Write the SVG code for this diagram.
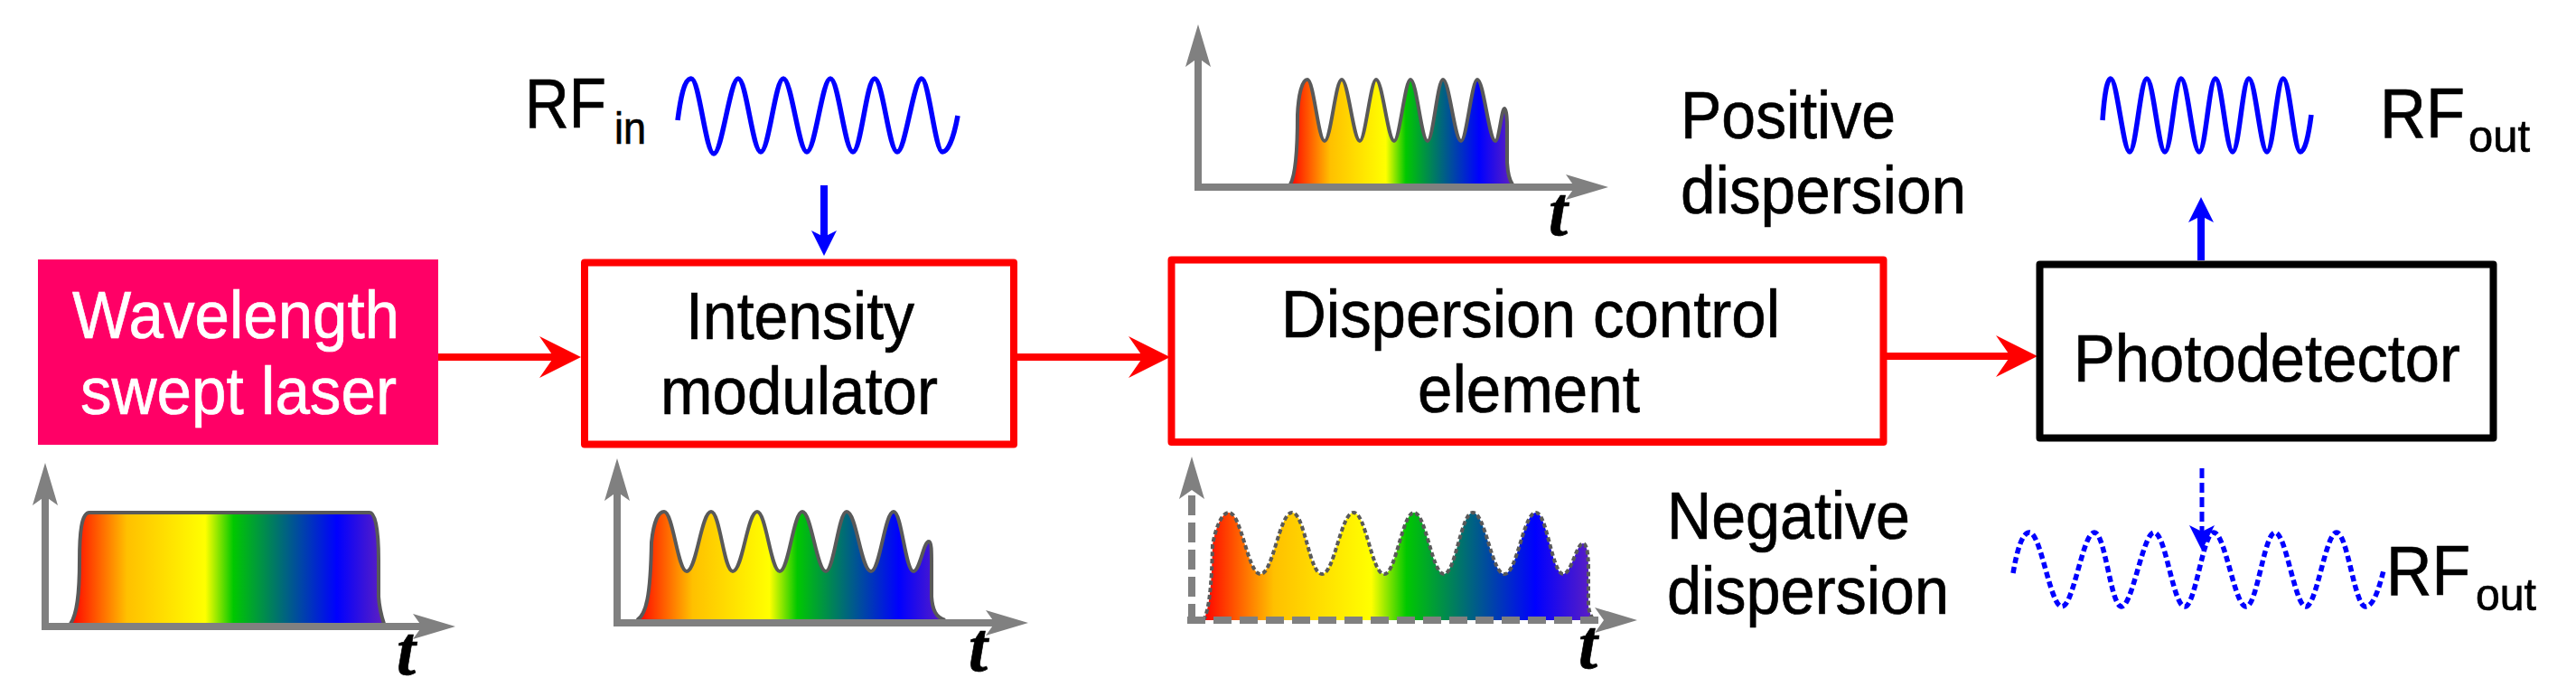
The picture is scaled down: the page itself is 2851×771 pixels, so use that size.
<svg xmlns="http://www.w3.org/2000/svg" width="2851" height="771" viewBox="0 0 2851 771">
<style>
text{font-family:"Liberation Sans",Arial,sans-serif;font-size:75px;fill:#000;stroke:#000;stroke-width:.7}
.w{fill:#fff;stroke:#fff}
.rf{font-size:78px}
.sub{font-size:50px}
.t{font-family:"Liberation Serif","Times New Roman",serif;font-weight:bold;font-style:italic;font-size:78px}
.box{fill:#fff;stroke-width:8;stroke-linejoin:round}
.axis{fill:none;stroke:#808080;stroke-width:8;marker-end:url(#ga)}
.pulse{fill:url(#rainbow);stroke:#595959;stroke-width:4}
.wave{fill:none;stroke:#0000ff;stroke-width:5.500}
.red{stroke:#ff0000;stroke-width:8;fill:none;marker-end:url(#ra)}
.blue{stroke:#0000ff;stroke-width:8;fill:none;marker-end:url(#ba)}
</style>
<defs>
<linearGradient id="rainbow" x1="0" y1="0" x2="1" y2="0">
<stop offset="0" stop-color="#ff0000"/><stop offset="0.18" stop-color="#ffc000"/><stop offset="0.43" stop-color="#ffff00"/><stop offset="0.52" stop-color="#00c800"/><stop offset="0.85" stop-color="#0000ff"/><stop offset="1" stop-color="#6020c0"/>
</linearGradient>
<marker id="ra" markerUnits="userSpaceOnUse" markerWidth="46" markerHeight="50" refX="21" refY="25" orient="auto"><polygon points="0,2 46,25 0,48 16,25" fill="#ff0000"/></marker>
<marker id="ga" markerUnits="userSpaceOnUse" markerWidth="47" markerHeight="30" refX="10" refY="15" orient="auto"><polygon points="0,1 47,15 0,29 10,15" fill="#808080"/></marker>
<marker id="ba" markerUnits="userSpaceOnUse" markerWidth="28" markerHeight="30" refX="7" refY="15" orient="auto"><polygon points="0,1 28,15 0,29 7,15" fill="#0000ff"/></marker>
</defs>

<g id="connectors">
<line class="red" x1="485" y1="395" x2="618" y2="395"/>
<line class="red" x1="1126" y1="395" x2="1270" y2="395"/>
<line class="red" x1="2088" y1="394" x2="2230" y2="394"/>
<line class="blue" x1="912" y1="205" x2="912" y2="262"/>
<line class="blue" x1="2436" y1="288" x2="2436" y2="239"/>
</g>

<g id="laser"><rect x="42" y="287" width="443" height="205" fill="#ff0066"/>
<text class="w" x="80" y="374" textLength="362" lengthAdjust="spacingAndGlyphs">Wavelength</text><text class="w" x="89" y="458" textLength="350" lengthAdjust="spacingAndGlyphs">swept laser</text></g>

<g id="modulator"><rect class="box" x="647" y="290.500" width="475" height="201" stroke="#ff0000"/>
<text x="759" y="375" textLength="253" lengthAdjust="spacingAndGlyphs">Intensity</text><text x="731" y="458" textLength="307" lengthAdjust="spacingAndGlyphs">modulator</text></g>

<g id="dispersion"><rect class="box" x="1296.500" y="287.500" width="788" height="201.500" stroke="#ff0000"/>
<text x="1418" y="373" textLength="552" lengthAdjust="spacingAndGlyphs">Dispersion control</text><text x="1569" y="456" textLength="246" lengthAdjust="spacingAndGlyphs">element</text></g>

<g id="photodetector"><rect class="box" x="2257.500" y="292.500" width="502" height="192" stroke="#000"/>
<text x="2295" y="422" textLength="428" lengthAdjust="spacingAndGlyphs">Photodetector</text></g>

<g id="rf-in"><text class="rf" x="581" y="141" textLength="90" lengthAdjust="spacingAndGlyphs">RF</text><text class="sub" x="680" y="159" textLength="35" lengthAdjust="spacingAndGlyphs">in</text>
<path class="wave" d="M750 133C753 110 757 87 765 87C774 87 781 170 790 170C799 170 808 87 817 87C826 87 833 168 842 168C851 168 858 87 867 87C876 87 884 168 893 168C902 168 910 87 919 87C928 87 935 168 944 168C953 168 959 87 968 87C977 87 984 168 993 168C1002 168 1011 87 1020 87C1028 87 1035 168 1043 168C1050 168 1056 150 1060 128"/></g>

<g id="plot-laser">
<path class="pulse" d="M78 690C85 680 88 660 88 620C88 590 90 567 99 567L409 567C416 567 419 590 419 620L419 660C420 675 423 684 425 690"/>
<line class="axis" x1="50" y1="697" x2="50" y2="549"/>
<line class="axis" x1="46" y1="693" x2="467" y2="693"/>
<text class="t" x="439" y="746" textLength="21" lengthAdjust="spacingAndGlyphs">t</text></g>

<g id="plot-modulated">
<path class="pulse" d="M705 686C715 680 720 660 721 600C723 580 728 566 735 566C745 566 750 632 760 632C771 632 776 566 787 566C797 566 801 632 811 632C822 632 827 566 838 566C848 566 853 632 863 632C873 632 878 566 888 566C898 566 904 632 914 632C923 632 928 566 937 566C948 566 953 632 964 632C974 632 979 566 989 566C998 566 1002 632 1011 632C1018 632 1022 599 1028 599C1031 599 1031 610 1031 625L1031 660C1032 675 1036 683 1046 686"/>
<line class="axis" x1="683" y1="693" x2="683" y2="544"/>
<line class="axis" x1="679" y1="689" x2="1101" y2="689"/>
<text class="t" x="1072" y="742" textLength="21" lengthAdjust="spacingAndGlyphs">t</text></g>

<g id="plot-positive">
<path class="pulse" d="M1428 204C1433 195 1436 170 1436 127C1437 105 1441 88 1447 88C1454 88 1459 156 1466 156C1473 156 1478 88 1485 88C1492 88 1498 156 1505 156C1511 156 1517 88 1523 88C1530 88 1536 156 1543 156C1549 156 1555 88 1561 88C1568 88 1573 156 1580 156C1586 156 1591 88 1597 88C1604 88 1610 156 1617 156C1623 156 1629 88 1635 88C1642 88 1648 156 1655 156C1659 156 1662 120 1665 120C1667 120 1668 130 1668 140L1668 180C1669 195 1671 200 1674 204"/>
<line class="axis" x1="1326" y1="211" x2="1326" y2="64"/>
<line class="axis" x1="1322" y1="207" x2="1743" y2="207"/>
<text class="t" x="1714" y="260" textLength="21" lengthAdjust="spacingAndGlyphs">t</text>
<text x="1860" y="153" textLength="238" lengthAdjust="spacingAndGlyphs">Positive</text><text x="1860" y="236" textLength="316" lengthAdjust="spacingAndGlyphs">dispersion</text></g>

<g id="plot-negative">
<path class="pulse" stroke-dasharray="5 3" d="M1332 686C1338 675 1341 650 1342 603C1345 585 1352 567 1360 567C1374 567 1381 635 1395 635C1409 635 1416 567 1430 567C1444 567 1449 635 1463 635C1477 635 1484 567 1498 567C1512 567 1518 635 1532 635C1545 635 1552 567 1565 567C1578 567 1585 635 1598 635C1611 635 1617 567 1630 567C1644 567 1651 635 1665 635C1679 635 1686 567 1700 567C1712 567 1718 635 1730 635C1739 635 1745 601 1752 601C1756 601 1758 612 1758 630L1758 670C1759 678 1761 682 1764 686"/>
<line class="axis" stroke-dasharray="22 8" x1="1319" y1="690" x2="1319" y2="542"/>
<line class="axis" stroke-dasharray="20 9" x1="1314" y1="686" x2="1775" y2="686"/>
<text class="t" x="1747" y="739" textLength="21" lengthAdjust="spacingAndGlyphs">t</text>
<text x="1845" y="596" textLength="269" lengthAdjust="spacingAndGlyphs">Negative</text><text x="1845" y="679" textLength="312" lengthAdjust="spacingAndGlyphs">dispersion</text></g>

<g id="rf-out-top">
<path class="wave" d="M2327 133C2329 105 2332 87 2336 87C2343 87 2350 168 2357 168C2364 168 2369 87 2376 87C2383 87 2389 168 2396 168C2403 168 2407 87 2414 87C2421 87 2427 168 2434 168C2441 168 2445 87 2452 87C2459 87 2464 168 2471 168C2478 168 2482 87 2489 87C2496 87 2502 168 2509 168C2516 168 2520 87 2527 87C2534 87 2539 168 2546 168C2551 168 2555 150 2558 127"/>
<text class="rf" x="2634" y="152" textLength="94" lengthAdjust="spacingAndGlyphs">RF</text><text class="sub" x="2732" y="168" textLength="68" lengthAdjust="spacingAndGlyphs">out</text></g>

<g id="rf-out-bottom">
<path class="wave" style="stroke-dasharray:7 4" d="M2228 634C2232 610 2238 589 2246 589C2259 589 2269 671 2282 671C2295 671 2305 589 2318 589C2330 589 2336 671 2348 671C2360 671 2372 589 2384 589C2397 589 2405 671 2418 671C2430 671 2438 589 2450 589C2463 589 2473 671 2486 671C2498 671 2506 589 2518 589C2530 589 2540 671 2552 671C2564 671 2574 589 2586 589C2598 589 2606 671 2618 671C2626 671 2632 655 2638 631"/>
<line stroke="#0000ff" stroke-width="5" stroke-dasharray="11 5" marker-end="url(#ba)" x1="2437" y1="518" x2="2437" y2="588"/>
<text class="rf" x="2641" y="658" textLength="93" lengthAdjust="spacingAndGlyphs">RF</text><text class="sub" x="2740" y="675" textLength="67" lengthAdjust="spacingAndGlyphs">out</text></g>
</svg>
